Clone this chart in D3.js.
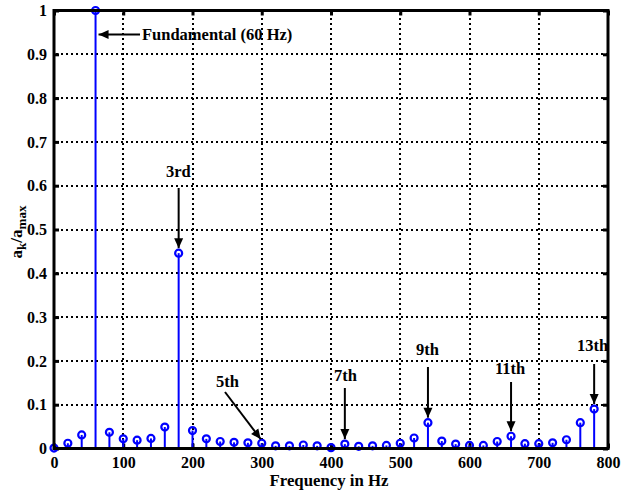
<!DOCTYPE html>
<html><head><meta charset="utf-8">
<script src="https://cdn.jsdelivr.net/npm/d3@7"></script>
<style>body{margin:0;background:#fff}svg{display:block}text{font-family:"Liberation Serif","Times New Roman",serif;font-weight:bold}</style>
</head><body><div id="chart"></div>
<script>
const freqs = [0,20,40,60,80,100,120,140,160,180,200,220,240,260,280,300,320,340,360,380,400,420,440,460,480,500,520,540,560,580,600,620,640,660,680,700,720,740,760,780];
const amps  = [0.001,0.012,0.031,1.0,0.037,0.022,0.019,0.023,0.049,0.446,0.041,0.022,0.016,0.014,0.013,0.012,0.006,0.006,0.008,0.006,0.002,0.010,0.005,0.006,0.007,0.012,0.024,0.059,0.017,0.010,0.007,0.007,0.016,0.028,0.011,0.011,0.013,0.020,0.059,0.090];
const xTicks = [0,100,200,300,400,500,600,700,800];
const yTicks = [0,0.1,0.2,0.3,0.4,0.5,0.6,0.7,0.8,0.9,1];
const notes = [
  {label:"Fundamental (60 Hz)", f:60, a:1.0},
  {label:"3rd", f:180, a:0.446},
  {label:"5th", f:300, a:0.012},
  {label:"7th", f:420, a:0.010},
  {label:"9th", f:540, a:0.059},
  {label:"11th", f:660, a:0.028},
  {label:"13th", f:780, a:0.090}
];

const W=624,H=490, L=54, R=608, T=10.5, B=448.5;
const svg=d3.select("#chart").append("svg").attr("width",W).attr("height",H);
const x=d3.scaleLinear().domain([0,800]).range([L,R]);
const y=d3.scaleLinear().domain([0,1]).range([B,T]);

svg.append("defs").append("marker").attr("id","ah").attr("viewBox","0 0 10 10")
  .attr("refX",10).attr("refY",5).attr("markerWidth",5.5).attr("markerHeight",5)
  .attr("markerUnits","strokeWidth").attr("orient","auto")
  .append("path").attr("d","M0,0.5L10,5L0,9.5z").attr("fill","#000");

// grid
const g=svg.append("g");
g.selectAll(".gx").data(xTicks.slice(1,-1)).join("line")
  .attr("x1",d=>Math.round(x(d))).attr("x2",d=>Math.round(x(d))).attr("y1",13).attr("y2",B)
  .attr("stroke","#000").attr("stroke-width",2).attr("stroke-dasharray","2,3").attr("shape-rendering","crispEdges");
g.selectAll(".gy").data(yTicks.slice(1,-1)).join("line")
  .attr("y1",d=>Math.round(y(d))).attr("y2",d=>Math.round(y(d))).attr("x1",56).attr("x2",R)
  .attr("stroke","#000").attr("stroke-width",2).attr("stroke-dasharray","2,3").attr("shape-rendering","crispEdges");

// axes via d3
const ax=svg.append("g").attr("transform",`translate(0,${B})`).call(d3.axisBottom(x).tickValues(xTicks).tickSize(-5).tickPadding(8));
const axT=svg.append("g").attr("transform",`translate(0,${T})`).call(d3.axisTop(x).tickValues(xTicks).tickSize(-5).tickFormat(""));
const ay=svg.append("g").attr("transform",`translate(${L},0)`).call(d3.axisLeft(y).tickValues(yTicks).tickSize(-5).tickPadding(7).tickFormat(d=>d===0?"0":d===1?"1":d3.format(".1f")(d)));
const ayR=svg.append("g").attr("transform",`translate(${R},0)`).call(d3.axisRight(y).tickValues(yTicks).tickSize(-5).tickFormat(""));
[ax,axT,ay,ayR].forEach(a=>{a.select(".domain").remove();a.selectAll(".tick line").attr("stroke","#000").attr("stroke-width",3);
  a.selectAll("text").attr("fill","#000").style("font-size","16px").style("font-family","'Liberation Serif',serif").style("font-weight","bold");});

// stems
svg.append("g").selectAll("line").data(freqs).join("line")
  .attr("x1",d=>x(d)).attr("x2",d=>x(d)).attr("y1",y(0)).attr("y2",(d,i)=>y(amps[i]))
  .attr("stroke","#0000ff").attr("stroke-width",2);
svg.append("g").selectAll("circle").data(freqs).join("circle")
  .attr("cx",d=>x(d)).attr("cy",(d,i)=>y(amps[i])).attr("r",3.5)
  .attr("fill","none").attr("stroke","#0000ff").attr("stroke-width",2.2);

// frame
svg.append("rect").attr("x",L).attr("y",T).attr("width",R-L).attr("height",B-T)
  .attr("fill","none").attr("stroke","#000").attr("stroke-width",3);

// annotations
const arrows=[
  {i:0, x1:140, y1:34.5, x2:x(notes[0].f)+3, y2:34.5, tx:142, ty:40},
  {i:1, x1:x(notes[1].f), y1:188, x2:x(notes[1].f), y2:y(notes[1].a)-5, tx:166, ty:177},
  {i:2, x1:225, y1:392, x2:x(notes[2].f)-1, y2:y(notes[2].a)-4, tx:216, ty:387},
  {i:3, x1:x(notes[3].f), y1:388, x2:x(notes[3].f), y2:y(notes[3].a)-5, tx:334, ty:381},
  {i:4, x1:x(notes[4].f), y1:367, x2:x(notes[4].f), y2:y(notes[4].a)-5, tx:416, ty:355},
  {i:5, x1:x(notes[5].f), y1:382, x2:x(notes[5].f), y2:y(notes[5].a)-5, tx:495, ty:374},
  {i:6, x1:x(notes[6].f), y1:364, x2:x(notes[6].f), y2:y(notes[6].a)-5, tx:577, ty:351}
];
const an=svg.append("g");
an.selectAll("line").data(arrows).join("line")
  .attr("x1",d=>d.x1).attr("y1",d=>d.y1).attr("x2",d=>d.x2).attr("y2",d=>d.y2)
  .attr("stroke","#000").attr("stroke-width",2).attr("marker-end","url(#ah)");
an.selectAll("text").data(arrows).join("text")
  .attr("x",d=>d.tx).attr("y",d=>d.ty).text(d=>notes[d.i].label)
  .style("font-size","16.5px").attr("fill","#000");

// axis labels
svg.append("text").attr("x",329).attr("y",485.5).attr("text-anchor","middle")
  .style("font-size","16.8px").text("Frequency in Hz");
const yl=svg.append("text").attr("transform","translate(22,232) rotate(-90)").attr("text-anchor","middle").style("font-size","17px");
yl.append("tspan").text("a");
yl.append("tspan").attr("dy",4).style("font-size","13px").text("k");
yl.append("tspan").attr("dy",-4).text("/a");
yl.append("tspan").attr("dy",4).style("font-size","13px").text("max");
</script></body></html>
